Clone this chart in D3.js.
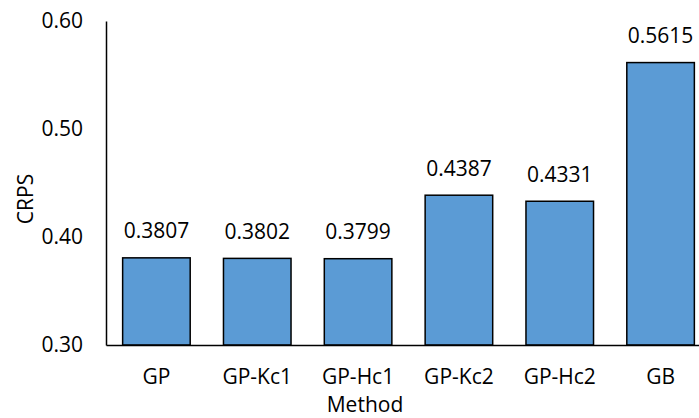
<!DOCTYPE html>
<html>
<head>
<meta charset="utf-8">
<script src="https://cdn.jsdelivr.net/npm/d3@7"></script>
<style>
  html, body { margin: 0; padding: 0; background: #fff; }
  svg text { font-family: "Open Sans", "Liberation Sans", sans-serif; fill: #000; }
</style>
</head>
<body>
<svg id="chart" width="699" height="418"></svg>
<script>
// CRPS by method
const methods = ["GP", "GP-Kc1", "GP-Hc1", "GP-Kc2", "GP-Hc2", "GB"];
const crps = [0.3807, 0.3802, 0.3799, 0.4387, 0.4331, 0.5615];
const yTicks = [0.30, 0.40, 0.50, 0.60];

const svg = d3.select("#chart");
const plot = { left: 106, right: 711, top: 21, bottom: 345 };
const fontSize = 21;

const x = d3.scaleBand().domain(methods).range([plot.left, plot.right]).paddingInner(0.33).paddingOuter(0.165);
const y = d3.scaleLinear().domain([0.30, 0.60]).range([plot.bottom, plot.top]);

const rows = methods.map((m, i) => ({ m, v: crps[i] }));

// bars
svg.append("g").selectAll("rect")
  .data(rows)
  .join("rect")
  .attr("x", d => x(d.m))
  .attr("y", d => y(d.v))
  .attr("width", x.bandwidth())
  .attr("height", d => y(0.30) - y(d.v))
  .attr("fill", "#5B9BD5")
  .attr("stroke", "#000")
  .attr("stroke-width", 1.5);

// value labels
svg.append("g").selectAll("text")
  .data(rows)
  .join("text")
  .attr("x", d => x(d.m) + x.bandwidth() / 2)
  .attr("y", d => y(d.v) - 19.5)
  .attr("text-anchor", "middle")
  .attr("font-size", fontSize)
  .text(d => d.v.toFixed(4));

// y axis
const yAxis = svg.append("g")
  .attr("transform", `translate(${plot.left},0)`)
  .call(d3.axisLeft(y).tickValues(yTicks).tickFormat(d3.format(".2f")).tickSize(0).tickPadding(23));
yAxis.select(".domain").attr("stroke", "#000").attr("stroke-width", 1.5);
yAxis.selectAll("text").attr("font-size", fontSize).attr("font-family", "Open Sans, Liberation Sans, sans-serif");

// x axis
const xAxis = svg.append("g")
  .attr("transform", `translate(0,${plot.bottom})`)
  .call(d3.axisBottom(x).tickSize(0).tickPadding(24));
xAxis.select(".domain").attr("stroke", "#000").attr("stroke-width", 1.5);
xAxis.selectAll("text").attr("font-size", fontSize).attr("font-family", "Open Sans, Liberation Sans, sans-serif");

// axis titles
svg.append("text")
  .attr("x", 365).attr("y", 412)
  .attr("text-anchor", "middle")
  .attr("font-size", fontSize)
  .text("Method");

svg.append("text")
  .attr("transform", "translate(33,199) rotate(-90)")
  .attr("text-anchor", "middle")
  .attr("font-size", fontSize)
  .text("CRPS");
</script>
</body>
</html>
